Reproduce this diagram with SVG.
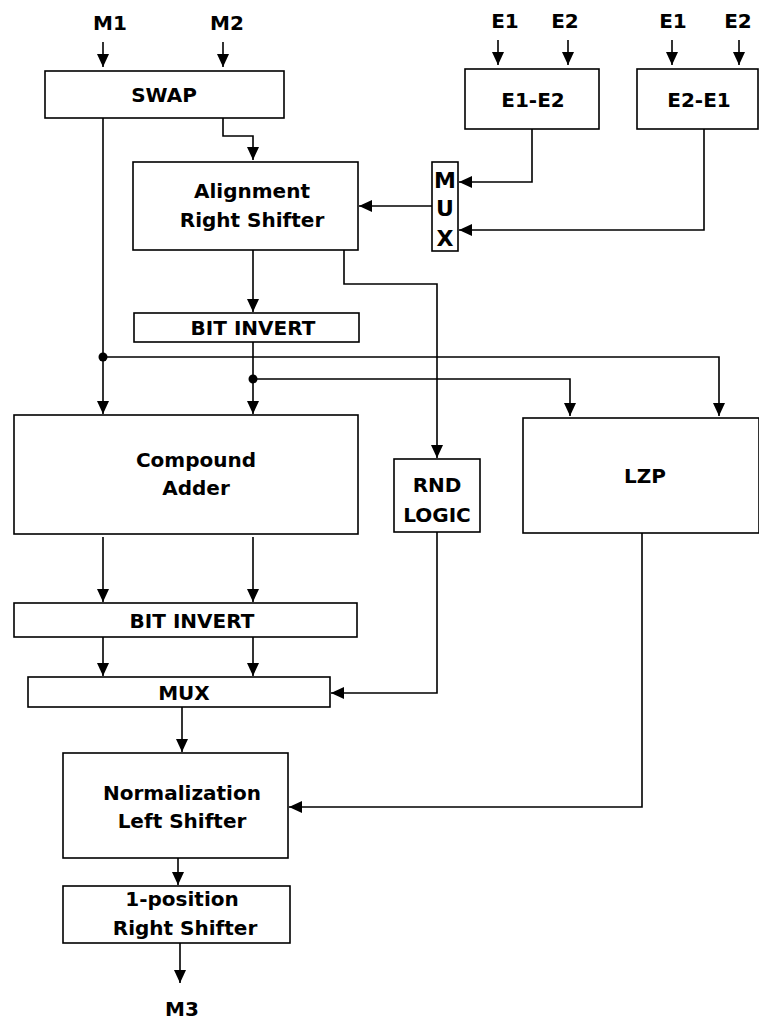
<svg xmlns="http://www.w3.org/2000/svg" width="759" height="1019" viewBox="0 0 759 1019">
<style>
.box{fill:#fff;stroke:#000;stroke-width:1.6}
.t{font-family:"DejaVu Sans",Verdana,sans-serif;font-weight:bold;font-size:20px;fill:#000;text-anchor:middle}
.m{font-size:22px}
.w{fill:none;stroke:#000;stroke-width:1.6}
.a{fill:none;stroke:#000;stroke-width:1.6;marker-end:url(#ah)}
</style>
<defs>
<marker id="ah" viewBox="0 0 13 12" refX="13" refY="6" markerWidth="13" markerHeight="12" markerUnits="userSpaceOnUse" orient="auto">
<path d="M0,0 L13,6 L0,12 z" fill="#000"/>
</marker>
</defs>
<rect width="759" height="1019" fill="#fff"/>
<g id="labels">
<text class="t" x="110" y="30">M1</text>
<text class="t" x="227" y="30">M2</text>
<text class="t" x="505" y="28">E1</text>
<text class="t" x="565" y="28">E2</text>
<text class="t" x="673" y="28">E1</text>
<text class="t" x="738" y="28">E2</text>
<text class="t" x="182" y="1016">M3</text>
</g>
<g id="connectors">
<path class="a" d="M103,42 V67"/>
<path class="a" d="M223,42 V67"/>
<path class="a" d="M498,40 V65"/>
<path class="a" d="M568,40 V65"/>
<path class="a" d="M672,40 V65"/>
<path class="a" d="M739,40 V65"/>
<path class="a" d="M223,118 V136 H253 V160"/>
<path class="a" d="M532,129 V182 H459"/>
<path class="a" d="M704,129 V230 H459"/>
<path class="a" d="M432,206 H359"/>
<path class="a" d="M253,250 V312"/>
<path class="a" d="M344,250 V284 H437 V458"/>
<path class="a" d="M103,118 V414"/>
<path class="a" d="M253,342 V414"/>
<path class="a" d="M103,357 H719 V416"/>
<path class="a" d="M253,379 H570 V416"/>
<circle cx="103" cy="357" r="4.5" fill="#000"/>
<circle cx="253" cy="379" r="4.5" fill="#000"/>
<path class="a" d="M103,537 V602"/>
<path class="a" d="M253,537 V602"/>
<path class="a" d="M103,637 V676"/>
<path class="a" d="M253,637 V676"/>
<path class="a" d="M437,532 V693 H331"/>
<path class="a" d="M642,533 V807 H289"/>
<path class="a" d="M182,707 V752"/>
<path class="a" d="M178,858 V885"/>
<path class="a" d="M180,943 V983"/>
</g>
<g id="swap"><rect class="box" x="45" y="71" width="239" height="47"/><text class="t" x="164" y="102">SWAP</text></g>
<g id="e1e2"><rect class="box" x="465" y="69" width="134" height="60"/><text class="t" x="533" y="107">E1-E2</text></g>
<g id="e2e1"><rect class="box" x="637" y="69" width="121" height="60"/><text class="t" x="699" y="107">E2-E1</text></g>
<g id="mux1"><rect class="box" x="432" y="162" width="26" height="89"/>
<text class="t m" x="445" y="188">M</text><text class="t m" x="445" y="216">U</text><text class="t m" x="445" y="246">X</text></g>
<g id="align"><rect class="box" x="133" y="162" width="225" height="88"/>
<text class="t" x="252" y="198">Alignment</text><text class="t" x="252" y="227">Right Shifter</text></g>
<g id="bitinv1"><rect class="box" x="134" y="313" width="225" height="29"/><text class="t" x="253" y="335">BIT INVERT</text></g>
<g id="compound"><rect class="box" x="14" y="415" width="344" height="119"/>
<text class="t" x="196" y="467">Compound</text><text class="t" x="196" y="495">Adder</text></g>
<g id="rnd"><rect class="box" x="394" y="459" width="86" height="73"/>
<text class="t" x="437" y="492">RND</text><text class="t" x="437" y="522">LOGIC</text></g>
<g id="lzp"><rect class="box" x="523" y="418" width="236" height="115"/><text class="t" x="645" y="483">LZP</text></g>
<g id="bitinv2"><rect class="box" x="14" y="603" width="343" height="34"/><text class="t" x="192" y="628">BIT INVERT</text></g>
<g id="mux2"><rect class="box" x="28" y="677" width="302" height="30"/><text class="t" x="184" y="700">MUX</text></g>
<g id="norm"><rect class="box" x="63" y="753" width="225" height="105"/>
<text class="t" x="182" y="800">Normalization</text><text class="t" x="182" y="828">Left Shifter</text></g>
<g id="rshift1"><rect class="box" x="63" y="886" width="227" height="57"/>
<text class="t" x="182" y="906">1-position</text><text class="t" x="185" y="935">Right Shifter</text></g>
</svg>
